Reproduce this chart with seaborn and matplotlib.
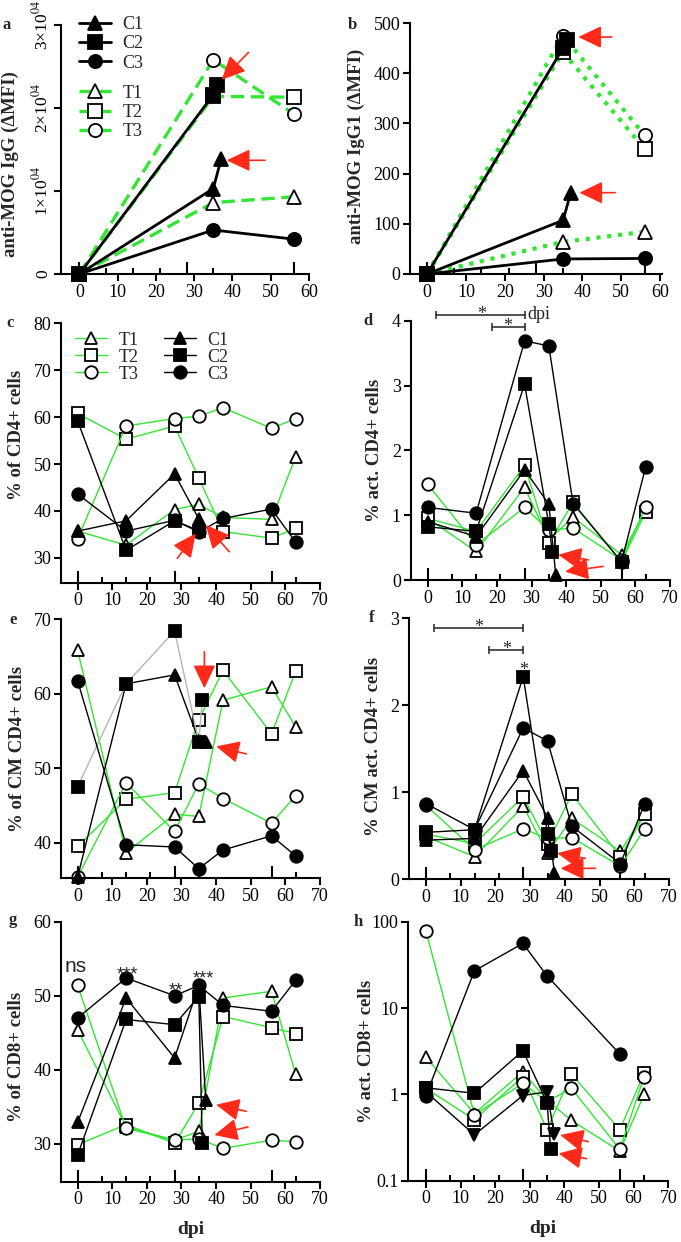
import numpy as np
import matplotlib
matplotlib.use('Agg')
import matplotlib.pyplot as plt
import seaborn as sns
from matplotlib.ticker import NullLocator

# ---------------- data ----------------
DPI = [0, 14, 28, 35, 42, 56, 63]
C1_X = [0, 14, 28, 35, 37]
C2_X = [0, 14, 28, 35, 36]

# panel a: anti-MOG IgG
a_x_T = [0, 35, 56]
a_T1 = [0, 8600, 9300]
a_T2 = [0, 21400, 21300]
a_T3 = [0, 25800, 19300]
a_C1_x = [0, 35, 37]
a_C1 = [0, 10300, 13800]
a_C2_x = [0, 35, 36]
a_C2 = [0, 21600, 22800]
a_C3_x = [0, 35, 56]
a_C3 = [0, 5300, 4200]
a_yticks = [0, 10000, 20000, 30000]
a_yticklabels = ['0', '1×10$^{04}$', '2×10$^{04}$', '3×10$^{04}$']

# panel b: anti-MOG IgG1
b_T1 = [0, 64, 84]
b_T2 = [0, 442, 249]
b_T3 = [0, 475, 276]
b_C1 = [0, 107, 162]
b_C2 = [0, 450, 466]
b_C3 = [0, 30, 31]

# panel c: % of CD4+ cells
c_T1 = [35.7, 32.7, 40.3, 41.4, 38.6, 38.2, 51.6]
c_T2 = [60.8, 55.3, 58.1, 47.0, 35.6, 34.2, 36.3]
c_T3 = [34.1, 58.1, 59.7, 60.2, 62.0, 57.6, 59.7]
c_C1_x = [0, 14, 28, 35]
c_C1 = [35.7, 37.9, 47.9, 38.3]
c_C2_x = [0, 14, 28, 35]
c_C2 = [59.2, 31.6, 37.9, 35.8]
c_C3 = [43.6, 35.7, 38.0, 35.5, 38.4, 40.4, 33.3]

# panel d: % act. CD4+ cells
d_T1 = [0.95, 0.44, 1.43, 0.62, 0.97, 0.39, 1.08]
d_T2 = [0.95, 0.75, 1.77, 0.57, 1.20, 0.28, 1.05]
d_T3 = [1.48, 0.54, 1.12, 0.77, 0.80, 0.31, 1.13]
d_C1 = [0.90, 0.67, 1.70, 1.17, 0.08]
d_C2 = [0.82, 0.75, 3.02, 0.86, 0.43]
d_C3 = [1.12, 1.03, 3.69, 3.61, 1.18, 0.28, 1.75]

# panel e: % of CM CD4+ cells
e_T1 = [65.8, 38.6, 43.8, 43.5, 59.1, 60.9, 55.5]
e_T2 = [39.5, 45.8, 46.7, 56.5, 63.1, 54.6, 63.0]
e_T3 = [35.4, 48.0, 41.5, 47.9, 45.9, 42.6, 46.3]
e_C1 = [35.4, 61.3, 62.5, 53.7, 53.5]
e_C2 = [47.5, 61.3, 68.4, 53.5, 59.1]
e_C3 = [61.7, 39.7, 39.4, 36.5, 39.0, 40.9, 38.2]

# panel f: % CM act. CD4+ cells
f_T1 = [0.49, 0.26, 0.84, 0.30, 0.70, 0.32, 0.76]
f_T2 = [0.52, 0.41, 0.95, 0.41, 0.98, 0.26, 0.75]
f_T3 = [0.85, 0.34, 0.58, 0.47, 0.48, 0.15, 0.58]
f_C1 = [0.45, 0.47, 1.25, 0.71, 0.07]
f_C2 = [0.54, 0.57, 2.33, 0.52, 0.33]
f_C3 = [0.87, 0.57, 1.74, 1.59, 0.61, 0.18, 0.87]

# panel g: % of CD8+ cells
g_T1 = [45.4, 32.3, 30.5, 31.7, 49.7, 50.6, 39.4]
g_T2 = [29.9, 32.6, 30.1, 35.5, 47.2, 45.7, 44.9]
g_T3 = [51.4, 32.1, 30.5, 30.7, 29.4, 30.5, 30.3]
g_C1 = [32.9, 49.7, 41.6, 51.4, 35.9]
g_C2 = [28.5, 46.8, 46.1, 49.9, 30.1]
g_C3 = [47.0, 52.4, 50.0, 51.4, 48.7, 47.9, 52.1]
g_sig_x = [-0.5, 14.3, 28.3, 36.4]
g_sig_y = [53.9, 53.7, 51.5, 53.1]
g_sig_txt = ['ns', '***', '**', '***']

# panel h: % act. CD8+ cells (log)
h_T1 = [2.68, 0.60, 1.83, 0.85, 0.50, 0.22, 1.0]
h_T2 = [1.17, 0.51, 1.60, 0.39, 1.72, 0.39, 1.75]
h_T3 = [78, 0.58, 1.34, 0.82, 1.18, 0.23, 1.6]
h_C1 = [1.07, 0.34, 0.97, 1.07, 0.35]
h_C2 = [1.19, 1.03, 3.2, 0.80, 0.23]
h_C3_x = [0, 14, 28, 35, 56]
h_C3 = [0.97, 27, 56, 23.5, 2.93]

# sampling-day marks on x axes
TALL_DAYS = [0, 28, 56]
SHORT_AB = [7, 14, 21, 35]
SHORT_CH = [7, 14, 21, 35, 63]

# red arrows (tip, tail) per panel
ARROWS = {
    'a': [((37.2, 23400), (44.2, 26700)), ((38.5, 13700), (48.5, 13700))],
    'b': [((38.9, 472), (47.5, 472)), ((39.2, 162), (48.4, 162))],
    'c': [((34.1, 35.2), (28.8, 29.9)), ((37.0, 37.0), (43.8, 31.3))],
    'd': [((37.7, 0.39), (46.4, 0.31)), ((39.7, 0.13), (50.7, 0.21))],
    'e': [((36.6, 60.7), (36.6, 65.6)), ((40.0, 52.9), (48.7, 51.9))],
    'f': [((37.8, 0.30), (45.9, 0.24)), ((38.8, 0.126), (48.8, 0.126))],
    'g': [((40.0, 35.3), (48.7, 34.4)), ((39.5, 31.2), (49.2, 32.3))],
    'h': [((38.8, 0.338), (46.9, 0.283)), ((38.3, 0.207), (46.4, 0.18))],
}

# ---------------- style ----------------
sns.set_theme(style='ticks')
plt.rcParams['font.family'] = ['Liberation Serif', 'DejaVu Serif']
plt.rcParams['mathtext.fontset'] = 'stix'
plt.rcParams['axes.edgecolor'] = 'black'
plt.rcParams['xtick.color'] = 'black'
plt.rcParams['ytick.color'] = 'black'

GREEN = '#33e633'
RED = '#ff2a1a'
GRAY = '#b5b5b5'
W, H = 681, 1242
fig = plt.figure(figsize=(W / 100, H / 100), dpi=100)


def add_ax(l, t, r, b):
    return fig.add_axes([l / W, 1 - b / H, (r - l) / W, (b - t) / H])


def series(ax, x, y, marker, filled, color, ls='-', lw=1.0, ms=9, label=None):
    sns.lineplot(x=x, y=y, ax=ax, color=color, linestyle=ls, linewidth=lw,
                 estimator=None, errorbar=None, sort=False, legend=False,
                 label=label)
    ln = ax.lines[-1]
    ln.set_marker(marker)
    ln.set_markersize(ms)
    ln.set_markerfacecolor('black' if filled else 'white')
    ln.set_markeredgecolor('black')
    ln.set_markeredgewidth(1.3)
    ln.set_clip_on(False)
    return ln


def style(ax, xlim, ylim, yticks, short, xmax):
    ax.set_xlim(xlim)
    ax.set_ylim(ylim)
    for s in ['top', 'right']:
        ax.spines[s].set_visible(False)
    for s in ['left', 'bottom']:
        ax.spines[s].set_linewidth(1.5)
    ax.set_xticks(np.arange(0, xmax + 1, 10))
    ax.set_xticks(short, minor=True)
    ax.set_yticks(yticks)
    ax.yaxis.set_minor_locator(NullLocator())
    ax.tick_params(axis='x', which='major', direction='out', length=5,
                   width=1.5, labelsize=13, pad=2)
    ax.tick_params(axis='x', which='minor', direction='in', length=4.5,
                   width=1.5)
    ax.tick_params(axis='y', which='major', direction='out', length=5,
                   width=1.5, labelsize=13, pad=2)
    sec = ax.secondary_xaxis('bottom')
    sec.set_xticks(TALL_DAYS)
    sec.tick_params(direction='in', length=9, width=1.5, labelbottom=False)
    sec.spines['bottom'].set_visible(False)
    ax.set_xlabel('')


def ylabel(ax, text, x, y):
    ax.set_ylabel(text, fontsize=13.5, fontweight='bold')
    ax.yaxis.set_label_coords(x, y)


def arrows(ax, key):
    for tip, tail in ARROWS[key]:
        ax.annotate('', xy=tip, xytext=tail, annotation_clip=False,
                    arrowprops=dict(arrowstyle='-|>,head_length=0.8,head_width=0.38',
                                    mutation_scale=18, lw=1.2, color=RED,
                                    shrinkA=0, shrinkB=0))


def bracket(ax, x0, x1, y):
    ax.plot([x0, x1], [y, y], color='#333333', lw=1.2, marker='|', ms=6,
            mew=1.2, clip_on=False)


def star(ax, x, y, txt='*', size=13, family=None, dy=-3):
    kw = {}
    if family:
        kw['family'] = family
    ax.annotate(txt, xy=(x, y), xytext=(0, dy), textcoords='offset points',
                ha='center', va='baseline', fontsize=size,
                annotation_clip=False, **kw)


def panel_ch(ax, T1, T2, T3, C1x, C1, C2x, C2, C3x, C3, c1_marker='^',
             c2_color='black'):
    t1 = series(ax, DPI, T1, '^', False, GREEN, label='T1')
    t2 = series(ax, DPI, T2, 's', False, GREEN, label='T2')
    t3 = series(ax, DPI, T3, 'o', False, GREEN, label='T3')
    c1 = series(ax, C1x, C1, c1_marker, True, 'black', label='C1')
    c2 = series(ax, C2x, C2, 's', True, c2_color, label='C2')
    c3 = series(ax, C3x, C3, 'o', True, 'black', label='C3')
    return [t1, t2, t3, c1, c2, c3]


# ---------------- panel a ----------------
ax = add_ax(61, 25, 309, 274)
t1 = series(ax, a_x_T, a_T1, '^', False, GREEN, ls=(0, (4, 2)), lw=2.4, ms=9.5, label='T1')
t2 = series(ax, a_x_T, a_T2, 's', False, GREEN, ls=(0, (4, 2)), lw=2.4, ms=9.5, label='T2')
t3 = series(ax, a_x_T, a_T3, 'o', False, GREEN, ls=(0, (4, 2)), lw=2.4, ms=9.5, label='T3')
c1 = series(ax, a_C1_x, a_C1, '^', True, 'black', lw=2.0, ms=9.5, label='C1')
c2 = series(ax, a_C2_x, a_C2, 's', True, 'black', lw=2.0, ms=9.5, label='C2')
c3 = series(ax, a_C3_x, a_C3, 'o', True, 'black', lw=2.0, ms=9.5, label='C3')
style(ax, (-4.8, 60), (0, 30000), a_yticks, SHORT_AB, 60)
ax.set_yticklabels(a_yticklabels, rotation=90, va='center', fontsize=12.5)
ylabel(ax, 'anti-MOG IgG (ΔMFI)', -0.17, 0.44)
leg1 = ax.legend(handles=[c1, c2, c3], labels=['C1', 'C2', 'C3'],
                 loc='upper left', bbox_to_anchor=(0.072, 1.035), frameon=False,
                 fontsize=13, handlelength=1.8, handletextpad=0.6,
                 labelspacing=0.12, borderpad=0, borderaxespad=0)
ax.add_artist(leg1)
ax.legend(handles=[t1, t2, t3], labels=['T1', 'T2', 'T3'],
          loc='upper left', bbox_to_anchor=(0.072, 0.76), frameon=False,
          fontsize=13, handlelength=1.8, handletextpad=0.6,
          labelspacing=0.12, borderpad=0, borderaxespad=0)
arrows(ax, 'a')

# ---------------- panel b ----------------
ax = add_ax(410, 23, 661.7, 274)
series(ax, a_x_T, b_T1, '^', False, GREEN, ls=(0, (1, 1.6)), lw=3, ms=9.5)
series(ax, a_x_T, b_T2, 's', False, GREEN, ls=(0, (1, 1.6)), lw=3, ms=9.5)
series(ax, a_x_T, b_T3, 'o', False, GREEN, ls=(0, (1, 1.6)), lw=3, ms=9.5)
series(ax, a_C1_x, b_C1, '^', True, 'black', lw=2.0, ms=9.5)
series(ax, a_C2_x, b_C2, 's', True, 'black', lw=2.0, ms=9.5)
series(ax, a_C3_x, b_C3, 'o', True, 'black', lw=2.0, ms=9.5)
style(ax, (-4.4, 60.4), (0, 500), [0, 100, 200, 300, 400, 500], SHORT_AB, 60)
ylabel(ax, 'anti-MOG IgG1 (ΔMFI)', -0.178, 0.51)
arrows(ax, 'b')

# ---------------- panel c ----------------
ax = add_ax(61, 323.3, 320, 582.7)
hs = panel_ch(ax, c_T1, c_T2, c_T3, c_C1_x, c_C1, c_C2_x, c_C2, DPI, c_C3)
style(ax, (-4.8, 70), (24.7, 80), [30, 40, 50, 60, 70, 80], SHORT_CH, 70)
ylabel(ax, '% of CD4+ cells', -0.139, 0.57)
ax.legend(handles=hs, labels=['T1', 'T2', 'T3', 'C1', 'C2', 'C3'], ncol=2,
          loc='upper left', bbox_to_anchor=(0.054, 0.968), frameon=False,
          fontsize=13, handlelength=1.8, handletextpad=0.6,
          labelspacing=0.0, columnspacing=1.4, borderpad=0, borderaxespad=0)
arrows(ax, 'c')

# ---------------- panel d ----------------
ax = add_ax(410.7, 320.7, 670, 580)
panel_ch(ax, d_T1, d_T2, d_T3, C1_X, d_C1, C2_X, d_C2, DPI, d_C3)
style(ax, (-4.9, 70), (0, 4), [0, 1, 2, 3, 4], SHORT_CH, 70)
ylabel(ax, '% act. CD4+ cells', -0.107, 0.50)
bracket(ax, 2.5, 28, 4.09)
bracket(ax, 18.5, 28, 3.91)
star(ax, 15.5, 4.09)
star(ax, 23.2, 3.91)
ax.text(28.7, 4.09, 'dpi', ha='left', va='center', fontsize=13, clip_on=False)
arrows(ax, 'd')

# ---------------- panel e ----------------
ax = add_ax(61, 619, 320, 878.3)
panel_ch(ax, e_T1, e_T2, e_T3, C1_X, e_C1, C2_X, e_C2, DPI, e_C3,
         c2_color=GRAY)
style(ax, (-4.8, 70), (35.2, 70), [40, 50, 60, 70], SHORT_CH, 70)
ylabel(ax, '% of CM CD4+ cells', -0.135, 0.50)
arrows(ax, 'e')

# ---------------- panel f ----------------
ax = add_ax(409, 618.3, 669, 879.3)
panel_ch(ax, f_T1, f_T2, f_T3, C1_X, f_C1, C2_X, f_C2, DPI, f_C3)
style(ax, (-4.9, 70), (0, 3), [0, 1, 2, 3], SHORT_CH, 70)
ylabel(ax, '% CM act. CD4+ cells', -0.105, 0.51)
bracket(ax, 2.4, 28, 2.885)
bracket(ax, 18.2, 28, 2.636)
star(ax, 15.2, 2.885)
star(ax, 23.2, 2.636)
star(ax, 28, 2.40)
arrows(ax, 'f')

# ---------------- panel g ----------------
ax = add_ax(61, 921.7, 320, 1181.7)
panel_ch(ax, g_T1, g_T2, g_T3, C1_X, g_C1, C2_X, g_C2, DPI, g_C3)
style(ax, (-4.8, 70), (24.9, 60), [30, 40, 50, 60], SHORT_CH, 70)
ylabel(ax, '% of CD8+ cells', -0.14, 0.48)
for sx, sy, st in zip(g_sig_x, g_sig_y, g_sig_txt):
    if st == 'ns':
        ax.text(sx, sy, st, ha='center', va='center', fontsize=15,
                family='Liberation Sans')
    else:
        star(ax, sx, sy, st, size=13, family='Liberation Sans', dy=-8)
ax.set_xlabel('dpi', fontsize=14, fontweight='bold')
ax.xaxis.set_label_coords(0.5, -0.15)
arrows(ax, 'g')

# ---------------- panel h ----------------
ax = add_ax(408.3, 921.7, 668.3, 1180.7)
ax.set_yscale('log')
panel_ch(ax, h_T1, h_T2, h_T3, C1_X, h_C1, C2_X, h_C2, h_C3_x, h_C3,
         c1_marker='v')
style(ax, (-5.1, 70), (0.1, 100), [0.1, 1, 10, 100], SHORT_CH, 70)
ax.set_yticklabels(['0.1', '1', '10', '100'])
ylabel(ax, '% act. CD8+ cells', -0.128, 0.50)
ax.set_xlabel('dpi', fontsize=14, fontweight='bold')
ax.xaxis.set_label_coords(0.518, -0.15)
arrows(ax, 'h')

# ---------------- panel letters ----------------
for letter, (px, py) in {'a': (7, 25), 'b': (352, 25), 'c': (10, 323),
                         'd': (368, 321), 'e': (13, 620), 'f': (372, 618),
                         'g': (13, 920), 'h': (358, 922)}.items():
    fig.text(px / W, 1 - py / H, letter, fontsize=12, fontweight='bold',
             ha='center', va='center')

fig.savefig('out.png', dpi=100)
